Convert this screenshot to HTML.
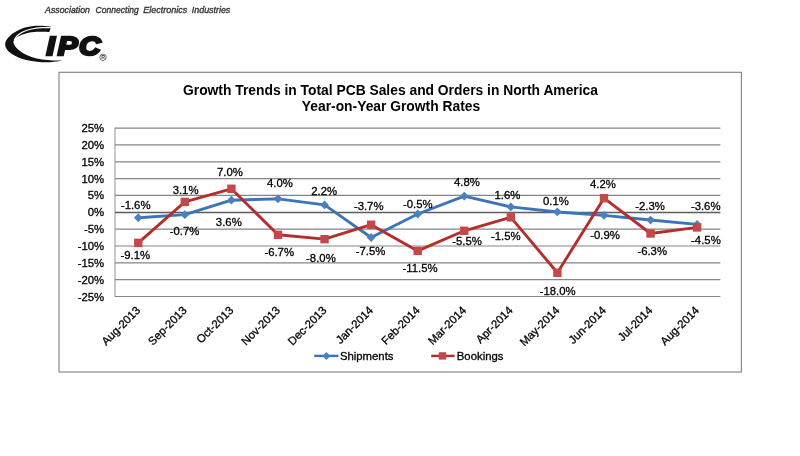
<!DOCTYPE html>
<html><head><meta charset="utf-8"><title>Growth Trends in Total PCB Sales and Orders in North America</title>
<style>
html,body{margin:0;padding:0;background:#fff;}
body{width:800px;height:456px;overflow:hidden;}
svg{display:block;font-family:"Liberation Sans",sans-serif;}
.t text, text.t{stroke:#000;stroke-width:0.3px;fill:#000;}
</style></head><body>
<svg width="800" height="456" viewBox="0 0 800 456">
<rect width="800" height="456" fill="#ffffff"/>
<g font-size="9.2" font-style="italic" fill="#333" stroke="#333" stroke-width="0.35">
<text x="45.1" y="12.6" textLength="44.8" lengthAdjust="spacingAndGlyphs">Association</text>
<text x="95.6" y="12.6" textLength="43.2" lengthAdjust="spacingAndGlyphs">Connecting</text>
<text x="143.3" y="12.6" textLength="44.0" lengthAdjust="spacingAndGlyphs">Electronics</text>
<text x="191.8" y="12.6" textLength="38.5" lengthAdjust="spacingAndGlyphs">Industries</text>
</g>
<g id="logo" fill="#111">
<path d="M51.20,26.70 C49.68,26.53 45.37,25.78 42.10,25.70 C38.83,25.62 35.12,25.67 31.60,26.20 C28.08,26.73 24.17,27.67 21.00,28.90 C17.83,30.13 14.97,31.83 12.60,33.60 C10.23,35.37 8.03,37.82 6.80,39.50 C5.57,41.18 5.28,42.22 5.20,43.70 C5.12,45.18 5.23,46.72 6.30,48.40 C7.37,50.08 9.15,52.12 11.60,53.80 C14.05,55.48 17.67,57.28 21.00,58.50 C24.33,59.72 28.08,60.48 31.60,61.10 C35.12,61.72 38.60,62.05 42.10,62.20 C45.60,62.35 49.08,62.27 52.60,62.00 C56.12,61.73 61.43,60.83 63.20,60.60 L63.20,60.50 C61.43,60.48 56.12,60.57 52.60,60.40 C49.08,60.23 45.60,60.08 42.10,59.50 C38.60,58.92 34.75,57.95 31.60,56.90 C28.45,55.85 25.67,54.65 23.20,53.20 C20.73,51.75 18.40,49.87 16.80,48.20 C15.20,46.53 14.02,44.57 13.60,43.20 C13.18,41.83 13.58,41.10 14.30,40.00 C15.02,38.90 16.25,37.62 17.90,36.60 C19.55,35.58 21.92,34.63 24.20,33.90 C26.48,33.17 28.62,32.56 31.60,32.20 C34.58,31.84 39.15,31.78 42.10,31.75 C45.05,31.72 48.10,31.96 49.30,32.00 Z"/>
<path d="M50.90,27.60 C49.43,27.61 45.32,27.42 42.10,27.65 C38.88,27.88 34.75,28.32 31.60,29.00 C28.45,29.68 25.60,30.57 23.20,31.70 C20.80,32.83 18.68,34.43 17.20,35.80 C15.72,37.17 14.78,39.22 14.30,39.90" fill="none" stroke="#fff" stroke-width="1.2" stroke-linecap="round"/>
<text transform="translate(46.4,54.75) scale(1.18,1)" font-size="25.3" font-weight="bold" font-style="italic" stroke="#111" stroke-width="2.4" letter-spacing="2"><tspan>I</tspan><tspan dx="0.5">P</tspan><tspan dx="-0.77">C</tspan></text>
<circle cx="103" cy="57.3" r="3.2" fill="none" stroke="#333" stroke-width="0.7"/>
<text x="103.1" y="59.2" font-size="5.2" text-anchor="middle" font-weight="bold" fill="#333">R</text>
</g>
<rect x="59" y="72.3" width="682.4" height="299.7" fill="#fff" stroke="#848484" stroke-width="1.15"/>
<text x="390.5" y="94.5" font-size="13.83" font-weight="bold" text-anchor="middle" fill="#000">Growth Trends in Total PCB Sales and Orders in North America</text>
<text x="391" y="111" font-size="13.83" font-weight="bold" text-anchor="middle" fill="#000">Year-on-Year Growth Rates</text>
<g stroke="#858585" stroke-width="1.2">
<line x1="115.0" y1="128.10" x2="720.4" y2="128.10"/>
<line x1="115.0" y1="144.94" x2="720.4" y2="144.94"/>
<line x1="115.0" y1="161.78" x2="720.4" y2="161.78"/>
<line x1="115.0" y1="178.62" x2="720.4" y2="178.62"/>
<line x1="115.0" y1="195.46" x2="720.4" y2="195.46"/>
<line x1="115.0" y1="229.14" x2="720.4" y2="229.14"/>
<line x1="115.0" y1="245.98" x2="720.4" y2="245.98"/>
<line x1="115.0" y1="262.82" x2="720.4" y2="262.82"/>
<line x1="115.0" y1="279.66" x2="720.4" y2="279.66"/>
<line x1="115.0" y1="296.50" x2="720.4" y2="296.50"/>
<line x1="115.0" y1="127.5" x2="115.0" y2="297.1" stroke="#909090" stroke-width="1"/>
</g>
<line x1="115.0" y1="212.5" x2="720.4" y2="212.5" stroke="#5c5c5c" stroke-width="1.5"/>
<g class="t" font-size="11.35" fill="#111" text-anchor="end">
<text x="104.2" y="132.10">25%</text>
<text x="104.2" y="148.94">20%</text>
<text x="104.2" y="165.78">15%</text>
<text x="104.2" y="182.62">10%</text>
<text x="104.2" y="199.46">5%</text>
<text x="104.2" y="216.30">0%</text>
<text x="104.2" y="233.14">-5%</text>
<text x="104.2" y="249.98">-10%</text>
<text x="104.2" y="266.82">-15%</text>
<text x="104.2" y="283.66">-20%</text>
<text x="104.2" y="300.50">-25%</text>
</g>
<g class="t" font-size="11.35" fill="#111" text-anchor="end">
<text transform="translate(140.98,311.1) rotate(-45)">Aug-2013</text>
<text transform="translate(187.55,311.1) rotate(-45)">Sep-2013</text>
<text transform="translate(234.12,311.1) rotate(-45)">Oct-2013</text>
<text transform="translate(280.69,311.1) rotate(-45)">Nov-2013</text>
<text transform="translate(327.26,311.1) rotate(-45)">Dec-2013</text>
<text transform="translate(373.83,311.1) rotate(-45)">Jan-2014</text>
<text transform="translate(420.40,311.1) rotate(-45)">Feb-2014</text>
<text transform="translate(466.97,311.1) rotate(-45)">Mar-2014</text>
<text transform="translate(513.54,311.1) rotate(-45)">Apr-2014</text>
<text transform="translate(560.11,311.1) rotate(-45)">May-2014</text>
<text transform="translate(606.68,311.1) rotate(-45)">Jun-2014</text>
<text transform="translate(653.25,311.1) rotate(-45)">Jul-2014</text>
<text transform="translate(699.82,311.1) rotate(-45)">Aug-2014</text>
</g>
<polyline points="138.28,217.68 184.85,214.65 231.42,200.20 277.99,198.86 324.56,204.91 371.13,237.50 417.70,213.98 464.27,196.17 510.84,206.92 557.41,211.96 603.98,215.32 650.55,220.03 697.12,224.40" fill="none" stroke="#3c74b8" stroke-width="2.9" stroke-linejoin="round" stroke-linecap="round"/>
<path d="M138.28,213.28 L142.68,217.68 L138.28,222.08 L133.88,217.68 Z" fill="#4a7fc1"/>
<path d="M184.85,210.25 L189.25,214.65 L184.85,219.05 L180.45,214.65 Z" fill="#4a7fc1"/>
<path d="M231.42,195.80 L235.82,200.20 L231.42,204.60 L227.02,200.20 Z" fill="#4a7fc1"/>
<path d="M277.99,194.46 L282.39,198.86 L277.99,203.26 L273.59,198.86 Z" fill="#4a7fc1"/>
<path d="M324.56,200.51 L328.96,204.91 L324.56,209.31 L320.16,204.91 Z" fill="#4a7fc1"/>
<path d="M371.13,233.10 L375.53,237.50 L371.13,241.90 L366.73,237.50 Z" fill="#4a7fc1"/>
<path d="M417.70,209.58 L422.10,213.98 L417.70,218.38 L413.30,213.98 Z" fill="#4a7fc1"/>
<path d="M464.27,191.77 L468.67,196.17 L464.27,200.57 L459.87,196.17 Z" fill="#4a7fc1"/>
<path d="M510.84,202.52 L515.24,206.92 L510.84,211.32 L506.44,206.92 Z" fill="#4a7fc1"/>
<path d="M557.41,207.56 L561.81,211.96 L557.41,216.36 L553.01,211.96 Z" fill="#4a7fc1"/>
<path d="M603.98,210.92 L608.38,215.32 L603.98,219.72 L599.58,215.32 Z" fill="#4a7fc1"/>
<path d="M650.55,215.63 L654.95,220.03 L650.55,224.43 L646.15,220.03 Z" fill="#4a7fc1"/>
<path d="M697.12,220.00 L701.52,224.40 L697.12,228.80 L692.72,224.40 Z" fill="#4a7fc1"/>
<polyline points="138.28,242.88 184.85,201.88 231.42,188.78 277.99,234.81 324.56,239.18 371.13,224.73 417.70,250.94 464.27,230.78 510.84,217.34 557.41,272.78 603.98,198.19 650.55,233.47 697.12,227.42" fill="none" stroke="#b52e2c" stroke-width="2.9" stroke-linejoin="round" stroke-linecap="round"/>
<rect x="134.08" y="238.68" width="8.4" height="8.4" fill="#c4484a"/>
<rect x="180.65" y="197.68" width="8.4" height="8.4" fill="#c4484a"/>
<rect x="227.22" y="184.58" width="8.4" height="8.4" fill="#c4484a"/>
<rect x="273.79" y="230.61" width="8.4" height="8.4" fill="#c4484a"/>
<rect x="320.36" y="234.98" width="8.4" height="8.4" fill="#c4484a"/>
<rect x="366.93" y="220.53" width="8.4" height="8.4" fill="#c4484a"/>
<rect x="413.50" y="246.74" width="8.4" height="8.4" fill="#c4484a"/>
<rect x="460.07" y="226.58" width="8.4" height="8.4" fill="#c4484a"/>
<rect x="506.64" y="213.14" width="8.4" height="8.4" fill="#c4484a"/>
<rect x="553.21" y="268.58" width="8.4" height="8.4" fill="#c4484a"/>
<rect x="599.78" y="193.99" width="8.4" height="8.4" fill="#c4484a"/>
<rect x="646.35" y="229.27" width="8.4" height="8.4" fill="#c4484a"/>
<rect x="692.92" y="223.22" width="8.4" height="8.4" fill="#c4484a"/>
<g class="t" font-size="11.35" fill="#111" text-anchor="middle">
<text x="135.7" y="209.1">-1.6%</text>
<text x="184.6" y="235.2">-0.7%</text>
<text x="228.8" y="226.3">3.6%</text>
<text x="279.9" y="187.4">4.0%</text>
<text x="324.2" y="194.6">2.2%</text>
<text x="370.6" y="254.5">-7.5%</text>
<text x="417.8" y="208.2">-0.5%</text>
<text x="466.9" y="185.7">4.8%</text>
<text x="507.4" y="198.5">1.6%</text>
<text x="555.9" y="204.5">0.1%</text>
<text x="605" y="238.8">-0.9%</text>
<text x="650.1" y="209.8">-2.3%</text>
<text x="705.7" y="209.8">-3.6%</text>
<text x="135.3" y="259.3">-9.1%</text>
<text x="185.6" y="194.2">3.1%</text>
<text x="230.0" y="175.6">7.0%</text>
<text x="279.2" y="255.7">-6.7%</text>
<text x="320.9" y="261.7">-8.0%</text>
<text x="368.7" y="209.8">-3.7%</text>
<text x="420.0" y="272.1">-11.5%</text>
<text x="467" y="245.3">-5.5%</text>
<text x="505.8" y="240.0">-1.5%</text>
<text x="557.6" y="295.0">-18.0%</text>
<text x="603" y="188.1">4.2%</text>
<text x="652.2" y="255.2">-6.3%</text>
<text x="705.9" y="243.6">-4.5%</text>
</g>
<line x1="314.3" y1="355.9" x2="338.5" y2="355.9" stroke="#3c74b8" stroke-width="2.4"/>
<path d="M326.4,351.9 L330.4,355.9 L326.4,359.9 L322.4,355.9 Z" fill="#4a7fc1"/>
<text x="339.9" y="359.8" class="t" font-size="11.35" fill="#111">Shipments</text>
<line x1="431.2" y1="355.9" x2="454.6" y2="355.9" stroke="#b52e2c" stroke-width="2.4"/>
<rect x="438.8" y="352.2" width="7.4" height="7.4" fill="#c4484a"/>
<text x="456.8" y="359.8" class="t" font-size="11.35" fill="#111">Bookings</text>
</svg>
</body></html>
